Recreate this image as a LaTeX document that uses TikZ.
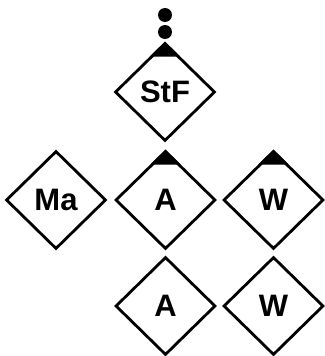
\documentclass[tikz,border=0pt]{standalone}
\usepackage{fontspec}
\setmainfont{Liberation Sans}
\usetikzlibrary{shapes.geometric,calc}
\begin{document}
\begin{tikzpicture}[x=1pt,y=-1pt,
  dia/.style={diamond,draw,line width=2.8pt,inner sep=0pt,minimum width=100pt,minimum height=98pt,
    font=\fontsize{31}{36}\selectfont\bfseries},
  dot/.style={circle,fill=black,inner sep=0pt,minimum size=14pt}]
\useasboundingbox (0,0) rectangle (324,356);
\node[dia] (stf) at (165,92) {StF};
\node[dia] (ma) at (56,200) {Ma};
\node[dia] (a1) at (165.5,200) {A};
\node[dia] (w1) at (273.5,200) {W};
\node[dia] (a2) at (165.5,306) {A};
\node[dia] (w2) at (273.5,306) {W};
\foreach \n in {stf,a1,w1}{
  \fill ($(\n.north)$) -- ($(\n.north)!0.3!(\n.west)$) -- ($(\n.north)!0.3!(\n.east)$) -- cycle;
}
\node[dot] (d1) at (165,15) {};
\node[dot] (d2) at (165,32) {};
\end{tikzpicture}
\end{document}
